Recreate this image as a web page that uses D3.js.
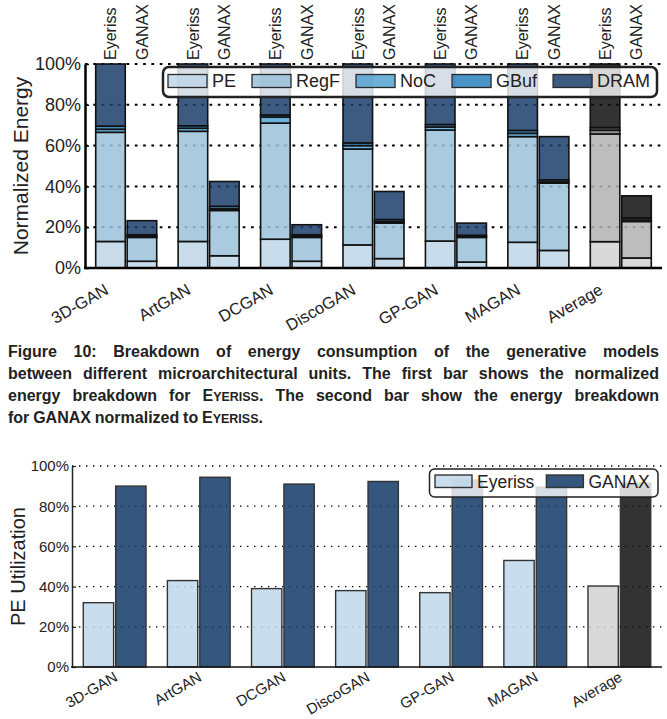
<!DOCTYPE html>
<html>
<head>
<meta charset="utf-8">
<script src="https://cdn.jsdelivr.net/npm/d3@7"></script>
<style>
body { margin: 0; background: #fff; }
svg text { font-family: "Liberation Sans", Arial, Helvetica, sans-serif; fill: #222; }
</style>
</head>
<body>
<script>
// benchmarks and series
var categories = ["3D-GAN", "ArtGAN", "DCGAN", "DiscoGAN", "GP-GAN", "MAGAN", "Average"];
var systems = ["Eyeriss", "GANAX"];
var parts = ["PE", "RegF", "NoC", "GBuf", "DRAM"];

// energy breakdown, % of Eyeriss total
var eyerissPE   = [13, 13, 14.1, 11.3, 13.2, 12.6, 12.9];
var eyerissRegF = [53.5, 54, 56.9, 47, 54.4, 51.8, 52.8];
var eyerissNoC  = [1.5, 1.5, 3, 1.7, 1.5, 1.6, 1.8];
var eyerissGBuf = [1.5, 1.2, 1, 1.3, 1.2, 1.4, 1.3];
var eyerissDRAM = [30.5, 30.3, 25, 38.7, 29.7, 32.6, 31.2];

var ganaxPE   = [3.3, 6, 3.3, 4.6, 2.9, 8.6, 4.9];
var ganaxRegF = [11.7, 22.2, 11.7, 17.4, 12.1, 33, 17.9];
var ganaxNoC  = [0.5, 0.8, 0.5, 0.7, 0.4, 0.6, 0.7];
var ganaxGBuf = [0.8, 1.2, 0.8, 1.0, 0.6, 1.0, 1.0];
var ganaxDRAM = [6.9, 12.2, 4.9, 13.8, 6, 21.2, 10.9];

// PE utilization, %
var utilEyeriss = [32, 43, 39, 38, 37, 53, 40.3];
var utilGanax   = [90, 94.4, 91, 92.3, 93, 89.5, 91.5];

var yTicks = [0, 20, 40, 60, 80, 100];

var captionLines = [
    "Figure 10: Breakdown of energy consumption of the generative models",
    "between different microarchitectural units. The first bar shows the normalized",
    "energy breakdown for E~YERISS~. The second bar show the energy breakdown",
    "for GANAX normalized to E~YERISS~."
];

// colours (drawn at 0.85 opacity)
var blueFill = {PE: "#c0d6e8", RegF: "#9ac1d9", NoC: "#54a2d1", GBuf: "#2c81be", DRAM: "#1b3d6a"};
var grayFill = {PE: "#d2d2d2", RegF: "#b1b1b1", NoC: "#838383", GBuf: "#5a5a5a", DRAM: "#0f0f0f"};
var utilFill = {Eyeriss: "#bed7eb", GANAX: "#123967"};
var utilGray = {Eyeriss: "#d2d2d2", GANAX: "#0f0f0f"};
var barOpacity = 0.85;

var svg = d3.select("body").append("svg")
    .attr("width", 667)
    .attr("height", 719);

// ---------------- top chart: energy breakdown ----------------
var box1 = {left: 85, right: 662, top: 64, bottom: 268};

var x0 = d3.scaleBand()
    .domain(categories)
    .range([box1.left, box1.right])
    .paddingInner(0.26)
    .paddingOuter(0.13);

var x1 = d3.scaleBand()
    .domain(systems)
    .range([0, x0.bandwidth()])
    .paddingInner(0.06);

var y = d3.scaleLinear()
    .domain([0, 100])
    .range([box1.bottom, box1.top]);

var energy = {
    Eyeriss: categories.map(function(c, i){
        return {cat: c, PE: eyerissPE[i], RegF: eyerissRegF[i], NoC: eyerissNoC[i], GBuf: eyerissGBuf[i], DRAM: eyerissDRAM[i]};
    }),
    GANAX: categories.map(function(c, i){
        return {cat: c, PE: ganaxPE[i], RegF: ganaxRegF[i], NoC: ganaxNoC[i], GBuf: ganaxGBuf[i], DRAM: ganaxDRAM[i]};
    })
};

var stack = d3.stack().keys(parts);

// dotted grid
svg.append("g").selectAll("line")
    .data(yTicks.slice(1))
    .enter()
    .append("line")
    .attr("x1", box1.left).attr("x2", box1.right)
    .attr("y1", function(d){ return y(d); })
    .attr("y2", function(d){ return y(d); })
    .attr("stroke", "#000")
    .attr("stroke-width", 2)
    .attr("stroke-dasharray", "2.7,5.6");

systems.forEach(function(sys){
    var layers = stack(energy[sys]);
    var g = svg.append("g").attr("class", "bars " + sys);
    layers.forEach(function(layer){
        g.selectAll(".seg-" + layer.key)
            .data(layer)
            .enter()
            .append("rect")
            .attr("x", function(d){ return x0(d.data.cat) + x1(sys); })
            .attr("width", x1.bandwidth())
            .attr("y", function(d){ return y(d[1]); })
            .attr("height", function(d){ return y(d[0]) - y(d[1]); })
            .attr("fill", function(d){ return d.data.cat == "Average" ? grayFill[layer.key] : blueFill[layer.key]; })
            .attr("fill-opacity", barOpacity)
            .attr("stroke", "#111")
            .attr("stroke-width", 1.6);
    });
});

// system labels above bars
categories.forEach(function(c){
    systems.forEach(function(sys){
        svg.append("text")
            .attr("transform", "translate(" + (x0(c) + x1(sys) + x1.bandwidth() / 2) + "," + (box1.top - 4) + ") rotate(-90)")
            .attr("dy", "0.36em")
            .style("font-size", "16px")
            .text(sys);
    });
});

// y axis
var yAxis = svg.append("g")
    .attr("transform", "translate(" + box1.left + ",0)")
    .call(d3.axisLeft(y)
        .tickValues(yTicks)
        .tickFormat(function(d){ return d + "%"; })
        .tickSizeInner(-4)
        .tickSizeOuter(0)
        .tickPadding(4));
yAxis.select(".domain").attr("stroke", "#000").attr("stroke-width", 2.5);
yAxis.selectAll(".tick line").attr("stroke", "#000").attr("stroke-width", 1.5);
yAxis.selectAll(".tick text").style("font-size", "18px").attr("fill", "#222");

svg.append("line")
    .attr("x1", box1.left - 1).attr("x2", box1.right)
    .attr("y1", box1.bottom).attr("y2", box1.bottom)
    .attr("stroke", "#000")
    .attr("stroke-width", 2.5);

svg.append("text")
    .attr("transform", "translate(20," + ((box1.top + box1.bottom) / 2) + ") rotate(-90)")
    .attr("text-anchor", "middle")
    .attr("dy", "0.36em")
    .style("font-size", "21px")
    .text("Normalized Energy");

// category labels
svg.append("g").selectAll("text")
    .data(categories)
    .enter()
    .append("text")
    .attr("transform", function(d){
        return "translate(" + (x0(d) + x1("Eyeriss") + x1.bandwidth() / 2 - 1) + "," + (box1.bottom + 25) + ") rotate(-30)";
    })
    .attr("text-anchor", "end")
    .style("font-size", "16.5px")
    .text(function(d){ return d; });

// legend
var legTop = svg.append("g");
legTop.append("rect")
    .attr("x", 163).attr("y", 67)
    .attr("width", 494).attr("height", 30)
    .attr("rx", 6)
    .attr("fill", "#fff").attr("fill-opacity", 0.8)
    .attr("stroke", "#222").attr("stroke-width", 2.5);
var lx = 168;
parts.forEach(function(p){
    legTop.append("rect")
        .attr("x", lx).attr("y", 74.5)
        .attr("width", 39).attr("height", 13)
        .attr("fill", blueFill[p]).attr("fill-opacity", barOpacity)
        .attr("stroke", "#2a2a2a").attr("stroke-width", 1.3);
    var t = legTop.append("text")
        .attr("x", lx + 44).attr("y", 81)
        .attr("dy", "0.36em")
        .style("font-size", "18px")
        .text(p);
    lx = lx + 44 + t.node().getComputedTextLength() + 16;
});

// ---------------- caption ----------------
function makeWord(parent, word, size){
    var t = parent.append("text").style("font-size", size + "px").style("font-weight", "bold");
    word.split("~").forEach(function(piece, k){
        if (piece.length == 0) return;
        t.append("tspan")
            .style("font-size", (k % 2 == 1 ? size * 0.78 : size) + "px")
            .text(piece);
    });
    return t;
}

var capSize = 16,
    capLeft = 8,
    capWidth = 651,
    capBase = [357, 379, 401, 423];

var capGroup = svg.append("g").attr("class", "caption");
var lineGroups = captionLines.map(function(line, i){
    var g = capGroup.append("g");
    var words = line.split(" ").map(function(w){
        var t = makeWord(g, w, capSize);
        return {node: t, w: t.node().getComputedTextLength()};
    });
    return {g: g, words: words, i: i};
});

// horizontal squeeze so the densest line fits with normal spaces
var spaceW = capSize * 0.24;
var needed = d3.max(lineGroups, function(l){
    return d3.sum(l.words, function(w){ return w.w; }) + spaceW * (l.words.length - 1);
});
var sx = Math.min(1, capWidth / needed);

lineGroups.forEach(function(l){
    l.g.attr("transform", "translate(" + capLeft + "," + capBase[l.i] + ") scale(" + sx + ",1)");
    var total = d3.sum(l.words, function(w){ return w.w; });
    var gap = spaceW;
    if (l.i < captionLines.length - 1) gap = (capWidth / sx - total) / (l.words.length - 1);
    var cx = 0;
    l.words.forEach(function(w){
        w.node.attr("x", cx);
        cx += w.w + gap;
    });
});

// ---------------- bottom chart: PE utilization ----------------
var box2 = {left: 72, right: 662, top: 466, bottom: 667};

var bx0 = d3.scaleBand()
    .domain(categories)
    .range([box2.left, box2.right])
    .paddingInner(0.254)
    .paddingOuter(0.134);

var bx1 = d3.scaleBand()
    .domain(systems)
    .range([0, bx0.bandwidth()])
    .paddingInner(0.064);

var by = d3.scaleLinear()
    .domain([0, 100])
    .range([box2.bottom, box2.top]);

svg.append("g").selectAll("line")
    .data(yTicks.slice(1))
    .enter()
    .append("line")
    .attr("x1", box2.left).attr("x2", box2.right)
    .attr("y1", function(d){ return by(d); })
    .attr("y2", function(d){ return by(d); })
    .attr("stroke", "#000")
    .attr("stroke-width", 1.3)
    .attr("stroke-dasharray", "1.4,5.6");

var util = categories.map(function(c, i){
    return {cat: c, Eyeriss: utilEyeriss[i], GANAX: utilGanax[i]};
});

svg.append("g").selectAll("g")
    .data(util)
    .enter()
    .append("g")
    .attr("transform", function(d){ return "translate(" + bx0(d.cat) + ",0)"; })
    .selectAll("rect")
    .data(function(d){ return systems.map(function(s){ return {cat: d.cat, sys: s, v: d[s]}; }); })
    .enter()
    .append("rect")
    .attr("x", function(d){ return bx1(d.sys); })
    .attr("width", bx1.bandwidth())
    .attr("y", function(d){ return by(d.v); })
    .attr("height", function(d){ return by(0) - by(d.v); })
    .attr("fill", function(d){ return d.cat == "Average" ? utilGray[d.sys] : utilFill[d.sys]; })
    .attr("fill-opacity", barOpacity)
    .attr("stroke", "#333")
    .attr("stroke-width", 1.4);

var byAxis = svg.append("g")
    .attr("transform", "translate(" + box2.left + ",0)")
    .call(d3.axisLeft(by)
        .tickValues(yTicks)
        .tickFormat(function(d){ return d + "%"; })
        .tickSizeInner(-4)
        .tickSizeOuter(0)
        .tickPadding(3));
byAxis.select(".domain").attr("stroke", "#222").attr("stroke-width", 1.5);
byAxis.selectAll(".tick line").attr("stroke", "#222").attr("stroke-width", 1.2);
byAxis.selectAll(".tick text").style("font-size", "15px").attr("fill", "#222");

svg.append("line")
    .attr("x1", box2.left - 1).attr("x2", box2.right)
    .attr("y1", box2.bottom).attr("y2", box2.bottom)
    .attr("stroke", "#111")
    .attr("stroke-width", 1.6);

svg.append("text")
    .attr("transform", "translate(18," + ((box2.top + box2.bottom) / 2) + ") rotate(-90)")
    .attr("text-anchor", "middle")
    .attr("dy", "0.36em")
    .style("font-size", "20px")
    .text("PE Utilization");

svg.append("g").selectAll("text")
    .data(categories)
    .enter()
    .append("text")
    .attr("transform", function(d){
        return "translate(" + (bx0(d) + bx0.bandwidth() / 2 + 4) + "," + (box2.bottom + 13) + ") rotate(-30)";
    })
    .attr("text-anchor", "end")
    .style("font-size", "15px")
    .text(function(d){ return d; });

var legBot = svg.append("g");
legBot.append("rect")
    .attr("x", 429.5).attr("y", 469)
    .attr("width", 228.5).attr("height", 28)
    .attr("rx", 5)
    .attr("fill", "#fff").attr("fill-opacity", 0.8)
    .attr("stroke", "#222").attr("stroke-width", 1.5);
var bl = 435;
systems.forEach(function(s){
    legBot.append("rect")
        .attr("x", bl).attr("y", 475)
        .attr("width", 37).attr("height", 12.5)
        .attr("fill", utilFill[s]).attr("fill-opacity", barOpacity)
        .attr("stroke", "#333").attr("stroke-width", 1.4);
    var t = legBot.append("text")
        .attr("x", bl + 42).attr("y", 481.5)
        .attr("dy", "0.36em")
        .style("font-size", "17.5px")
        .text(s);
    bl = bl + 42 + t.node().getComputedTextLength() + 12;
});
</script>
</body>
</html>
